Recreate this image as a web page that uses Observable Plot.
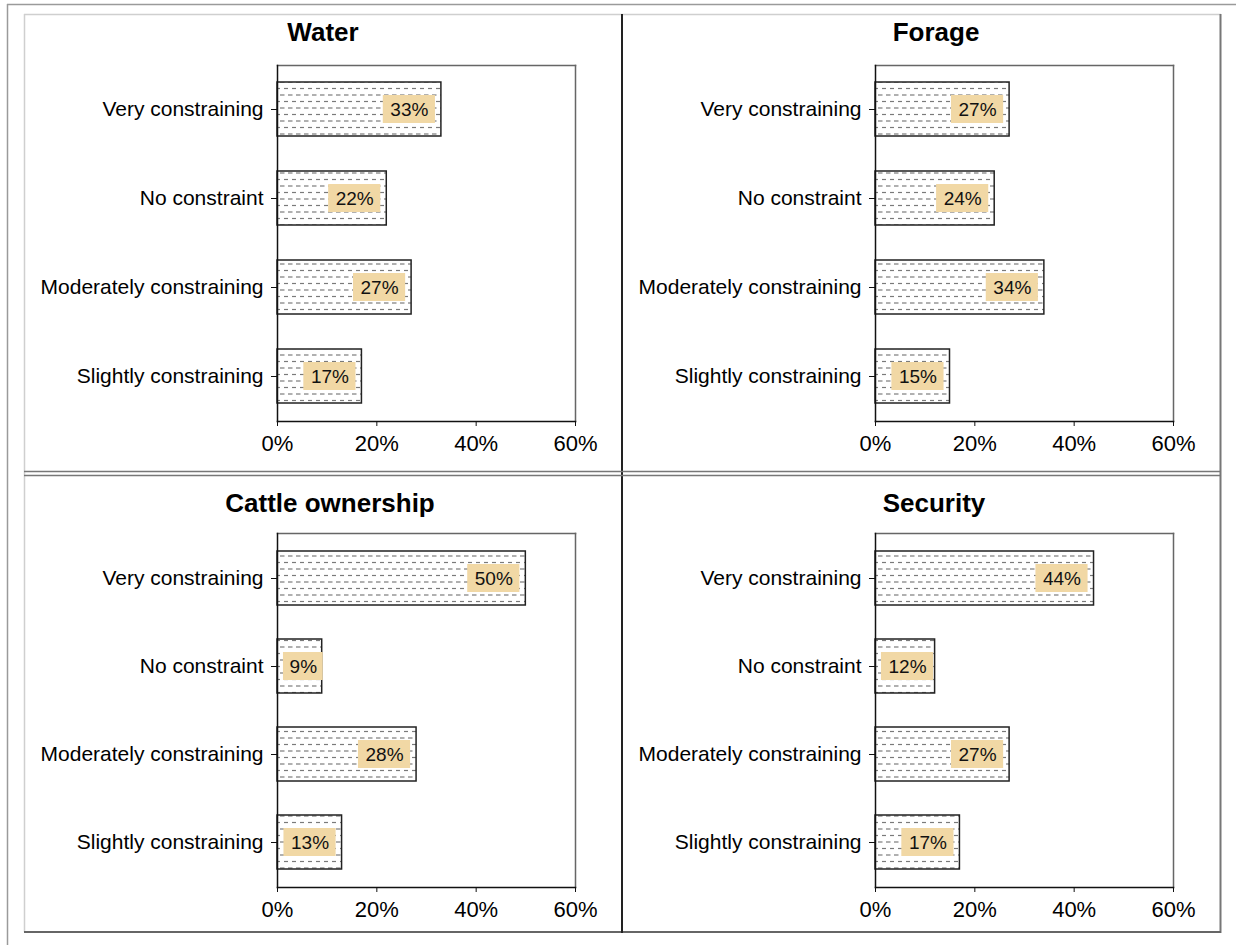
<!DOCTYPE html>
<html>
<head>
<meta charset="utf-8">
<script src="https://cdn.jsdelivr.net/npm/d3@7"></script>
<script src="https://cdn.jsdelivr.net/npm/@observablehq/plot@0.6"></script>
<style>
  html, body { margin: 0; padding: 0; background: #fff; }
  #root { position: relative; width: 1236px; height: 945px; overflow: hidden; font-family: "Liberation Sans", Arial, sans-serif; }
  .panel { position: absolute; }
  .title { position: absolute; font-weight: bold; font-size: 26px; color: #000; white-space: nowrap; transform: translateX(-50%); line-height: 1; }
</style>
</head>
<body>
<div id="root">
  <svg width="0" height="0" style="position:absolute">
    <defs>
      <pattern id="dashpat" patternUnits="userSpaceOnUse" width="8" height="13">
        <rect x="0" y="0" width="8" height="13" fill="#fff"></rect>
        <line x1="0" x2="4.5" y1="3" y2="3" stroke="#7a7a7a" stroke-width="1.2"></line>
        <line x1="4" x2="8.5" y1="9.5" y2="9.5" stroke="#7a7a7a" stroke-width="1.2"></line>
      </pattern>
    </defs>
  </svg>
</div>
<script>
const categories = ["Very constraining", "No constraint", "Moderately constraining", "Slightly constraining"];
const waterValues = [33, 22, 27, 17];
const forageValues = [27, 24, 34, 15];
const cattleValues = [50, 9, 28, 13];
const securityValues = [44, 12, 27, 17];
const xTicks = [0, 20, 40, 60];
const titles = ["Water", "Forage", "Cattle ownership", "Security"];

const root = document.getElementById("root");

// panel layout (page pixels)
const panels = [
  {title: titles[0], values: waterValues,    left: 24,  top: 14,  width: 598, height: 458, mL: 253, mR: 47, mT: 51, mB: 51, tx: 323, ty: 19},
  {title: titles[1], values: forageValues,   left: 622, top: 14,  width: 599, height: 458, mL: 253, mR: 48, mT: 51, mB: 51, tx: 936, ty: 19},
  {title: titles[2], values: cattleValues,   left: 24,  top: 475, width: 598, height: 457, mL: 253, mR: 47, mT: 58, mB: 45, tx: 330, ty: 490},
  {title: titles[3], values: securityValues, left: 622, top: 475, width: 599, height: 457, mL: 253, mR: 48, mT: 58, mB: 45, tx: 934, ty: 490}
];

function labelBox(v) {
  const label = v + "%";
  const w = label.length === 2 ? 8 : 10.5;
  let x2 = v - 1.2, x1 = x2 - w;
  if (x1 < 1.2) { x1 = 1.2; x2 = x1 + w; }
  return {x1, x2, label};
}

for (const p of panels) {
  const data = categories.map((c, i) => {
    const v = p.values[i];
    const b = labelBox(v);
    return {c, v, x1: b.x1, x2: b.x2, label: b.label};
  });
  const chart = Plot.plot({
    width: p.width,
    height: p.height,
    marginLeft: p.mL,
    marginRight: p.mR,
    marginTop: p.mT,
    marginBottom: p.mB,
    style: {fontFamily: "'Liberation Sans', Arial, sans-serif", fontSize: "21px", color: "#000", background: "transparent", overflow: "visible"},
    x: {domain: [0, 60], ticks: xTicks, tickFormat: d => d + "%", label: null},
    y: {domain: categories, label: null, paddingInner: 0.39, paddingOuter: 0.195},
    marks: [
      Plot.frame({anchor: "top", stroke: "#666", strokeWidth: 1.5}),
      Plot.frame({anchor: "right", stroke: "#666", strokeWidth: 1.5}),
      Plot.barX(data, {x: "v", y: "c", fill: "url(#dashpat)", stroke: "#222", strokeWidth: 1.5}),
      Plot.barX(data, {x1: "x1", x2: "x2", y: "c", insetTop: 13, insetBottom: 13, fill: "#f1d8a5"}),
      Plot.text(data, {x: d => (d.x1 + d.x2) / 2, y: "c", text: "label", fontSize: 19, fill: "#111"}),
      Plot.frame({anchor: "bottom", stroke: "#111", strokeWidth: 1.5}),
      Plot.frame({anchor: "left", stroke: "#111", strokeWidth: 1.5}),
      Plot.axisX({ticks: xTicks, tickFormat: d => d + "%", tickSize: 5, tickPadding: 9, label: null, stroke: "#111", fontSize: 22}),
      Plot.axisY({tickSize: 6, tickPadding: 8, label: null, stroke: "#111", fontSize: 21})
    ]
  });
  chart.classList.add("panel");
  chart.style.left = p.left + "px";
  chart.style.top = p.top + "px";
  root.appendChild(chart);

  const t = document.createElement("div");
  t.className = "title";
  t.textContent = p.title;
  t.style.left = p.tx + "px";
  t.style.top = p.ty + "px";
  root.appendChild(t);
}

// panel borders
const ns = "http://www.w3.org/2000/svg";
const ov = document.createElementNS(ns, "svg");
ov.setAttribute("width", 1236);
ov.setAttribute("height", 945);
ov.style.position = "absolute";
ov.style.left = "0";
ov.style.top = "0";
ov.style.pointerEvents = "none";
const lines = [
  [7, 4.5, 1236, 4.5, "#9a9a9a", 1.5],
  [7.5, 4, 7.5, 945, "#9a9a9a", 1.5],
  [24.5, 14, 24.5, 932, "#cfcfcf", 1.5],
  [24, 14.5, 1221, 14.5, "#cfcfcf", 1.5],
  [1220.5, 14, 1220.5, 933, "#777", 2],
  [24, 932, 1221, 932, "#666", 2],
  [622, 14, 622, 933, "#222", 2],
  [24, 471.5, 1221, 471.5, "#777", 1.5],
  [24, 475.5, 1221, 475.5, "#777", 1.5]
];
for (const [x1, y1, x2, y2, c, w] of lines) {
  const l = document.createElementNS(ns, "line");
  l.setAttribute("x1", x1); l.setAttribute("y1", y1);
  l.setAttribute("x2", x2); l.setAttribute("y2", y2);
  l.setAttribute("stroke", c); l.setAttribute("stroke-width", w);
  ov.appendChild(l);
}
root.appendChild(ov);
</script>
</body>
</html>
